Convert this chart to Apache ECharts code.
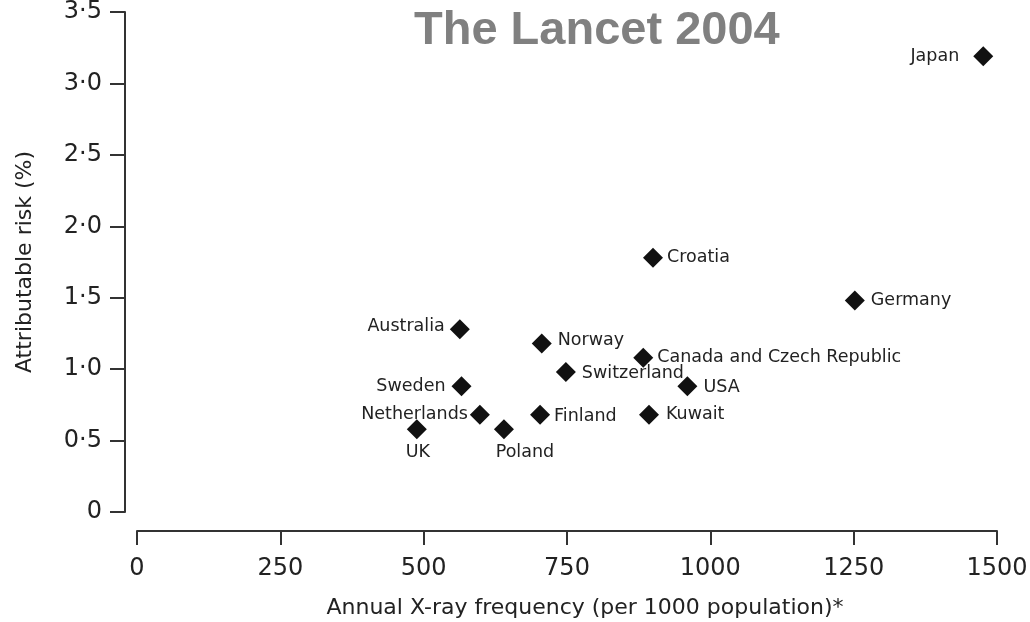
<!DOCTYPE html>
<html>
<head>
<meta charset="utf-8">
<script src="https://cdn.jsdelivr.net/npm/echarts@6/dist/echarts.min.js"></script>
<style>
    html, body { margin: 0; padding: 0; background: #fff; }
    #chart { width: 1030px; height: 622px; }
</style>
</head>
<body>
<div id="chart"></div>
<script>
    // values
    var countries = ['Japan', 'Croatia', 'Germany', 'Australia', 'Norway', 'Canada and Czech Republic',
        'Switzerland', 'Sweden', 'USA', 'Netherlands', 'Finland', 'Kuwait', 'UK', 'Poland'];
    var xrayFreq = [1476, 900, 1252, 563, 706, 883, 748, 566, 960, 598, 703, 893, 488, 640];
    var attribRisk = [3.19, 1.78, 1.48, 1.28, 1.18, 1.08, 0.98, 0.88, 0.88, 0.68, 0.68, 0.68, 0.58, 0.58];
    var xTicks = [0, 250, 500, 750, 1000, 1250, 1500];
    var yTicks = [0, 0.5, 1, 1.5, 2, 2.5, 3, 3.5];

    // where each country's label sits next to its marker
    var labelPlace = {
        'Japan': { position: 'left', distance: 14 },
        'Croatia': { position: 'right', distance: 4 },
        'Germany': { position: 'right', distance: 6 },
        'Australia': { position: 'left', distance: 5, offset: [0, -3] },
        'Norway': { position: 'right', distance: 6, offset: [0, -3] },
        'Canada and Czech Republic': { position: 'right', distance: 4 },
        'Switzerland': { position: 'right', distance: 6, offset: [0, 1] },
        'Sweden': { position: 'left', distance: 6 },
        'USA': { position: 'right', distance: 6, offset: [0, 1] },
        'Netherlands': { position: 'left', distance: 2 },
        'Finland': { position: 'right', distance: 4, offset: [0, 2] },
        'Kuwait': { position: 'right', distance: 7 },
        'UK': { position: 'bottom', distance: 4, offset: [1, 0] },
        'Poland': { position: 'bottom', distance: 4, offset: [21, 0] }
    };

    var points = [];
    for (var i = 0; i < countries.length; i++) {
        var p = labelPlace[countries[i]];
        points.push({
            name: countries[i],
            value: [xrayFreq[i], attribRisk[i]],
            label: {
                position: p.position,
                distance: p.distance,
                offset: p.offset || [0, 0]
            }
        });
    }

    var chart = echarts.init(document.getElementById('chart'));
    var option = {
        animation: false,
        title: {
            text: 'The Lancet 2004',
            left: 414,
            top: 8,
            padding: 0,
            textStyle: {
                fontFamily: 'Liberation Sans',
                fontSize: 47,
                fontWeight: 'bold',
                color: '#808080'
            }
        },
        grid: {
            left: 137,
            right: 33,
            top: 12,
            bottom: 110,
            outerBoundsMode: 'none'
        },
        xAxis: {
            type: 'value',
            min: xTicks[0],
            max: xTicks[xTicks.length - 1],
            interval: 250,
            offset: 19,
            name: 'Annual X-ray frequency (per 1000 population)*',
            nameLocation: 'middle',
            nameGap: 66,
            nameTextStyle: {
                fontFamily: 'DejaVu Sans',
                fontSize: 22,
                color: '#222',
                padding: [0, 0, 0, 36]
            },
            axisLine: { onZero: false, lineStyle: { color: '#333', width: 2 } },
            axisTick: { length: 14, lineStyle: { color: '#333', width: 2 } },
            axisLabel: {
                margin: 26,
                fontFamily: 'DejaVu Sans',
                fontSize: 24,
                color: '#222',
                formatter: function (v) { return String(v); }
            },
            splitLine: { show: false }
        },
        yAxis: {
            type: 'value',
            min: yTicks[0],
            max: yTicks[yTicks.length - 1],
            interval: 0.5,
            offset: 12,
            name: 'Attributable risk (%)',
            nameLocation: 'middle',
            nameGap: 89,
            nameTextStyle: {
                fontFamily: 'DejaVu Sans',
                fontSize: 22,
                color: '#222'
            },
            axisLine: { show: true, onZero: false, lineStyle: { color: '#333', width: 2 } },
            axisTick: { show: true, length: 15, lineStyle: { color: '#333', width: 2 } },
            axisLabel: {
                margin: 23,
                fontFamily: 'DejaVu Sans',
                fontSize: 24,
                color: '#222',
                formatter: function (v) {
                    return v === 0 ? '0' : v.toFixed(1).replace('.', '\u00b7');
                }
            },
            splitLine: { show: false }
        },
        series: [{
            type: 'scatter',
            symbol: 'diamond',
            symbolSize: 20,
            itemStyle: { color: '#111', opacity: 1 },
            label: {
                show: true,
                formatter: '{b}',
                fontFamily: 'DejaVu Sans',
                fontSize: 17.5,
                color: '#222'
            },
            data: points
        }]
    };
    chart.setOption(option);
</script>
</body>
</html>
